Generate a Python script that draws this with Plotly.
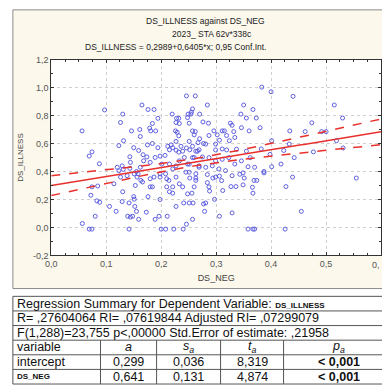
import numpy as np
import plotly.graph_objects as go

W, H = 382, 390

# ---- scatter data: DS_NEG (x) against DS_ILLNESS (y) ----
ds_neg = [
    0.056, 0.074, 0.069, 0.0875, 0.097,
    0.0565, 0.069, 0.074, 0.072, 0.074, 0.0845, 0.083, 0.088, 0.080, 0.106, 0.118,
    0.130, 0.129, 0.1415, 0.1415, 0.150, 0.151, 0.139, 0.144, 0.148, 0.152, 0.155,
    0.159, 0.153, 0.173, 0.176, 0.180, 0.184, 0.189, 0.196, 0.198, 0.200, 0.208,
    0.211, 0.223, 0.227, 0.240, 0.246, 0.241, 0.251, 0.258, 0.257, 0.210, 0.215, 0.221,
    0.130, 0.126, 0.1315, 0.123, 0.146, 0.161, 0.162, 0.165, 0.176, 0.187, 0.184,
    0.194, 0.179, 0.181, 0.190, 0.175, 0.184, 0.150, 0.159, 0.167, 0.143, 0.144,
    0.194, 0.207, 0.220, 0.228, 0.232, 0.227, 0.233, 0.226, 0.229, 0.232, 0.227,
    0.218, 0.221, 0.212, 0.215, 0.227, 0.236, 0.246, 0.262, 0.249, 0.257, 0.255,
    0.254, 0.270,
    0.383, 0.400, 0.440, 0.515, 0.530, 0.284, 0.350, 0.367, 0.345, 0.248, 0.355,
    0.373, 0.276, 0.286, 0.251, 0.326, 0.329, 0.474, 0.346, 0.380, 0.257, 0.262,
    0.260, 0.296, 0.311, 0.315, 0.332, 0.360, 0.434, 0.462, 0.492, 0.500, 0.287,
    0.302, 0.319, 0.334, 0.281, 0.277, 0.306, 0.324, 0.299, 0.311, 0.319, 0.299,
    0.337, 0.382, 0.401, 0.433, 0.423, 0.519, 0.531, 0.477, 0.398, 0.355, 0.362,
    0.358, 0.401, 0.387, 0.439, 0.555,
    0.279, 0.277, 0.281, 0.297, 0.306, 0.329, 0.358, 0.367, 0.370, 0.4255, 0.455,
    0.427, 0.367, 0.366, 0.369, 0.374, 0.349, 0.327, 0.336, 0.312, 0.288, 0.287,
    0.284, 0.263, 0.252, 0.294, 0.306, 0.310, 0.343, 0.349, 0.351, 0.387,
    0.120, 0.129, 0.123, 0.131, 0.143, 0.155, 0.158, 0.162, 0.168, 0.174, 0.180,
    0.189, 0.198, 0.201, 0.215, 0.221, 0.227, 0.233, 0.242, 0.248, 0.251, 0.260,
    0.266, 0.269, 0.251, 0.257, 0.267, 0.270, 0.239, 0.232, 0.198, 0.210, 0.180,
    0.126,
    0.151, 0.163, 0.166, 0.156, 0.138, 0.114, 0.187, 0.198, 0.208, 0.214, 0.227,
    0.233, 0.248, 0.260, 0.256, 0.263, 0.239, 0.221,
    0.246, 0.252, 0.263, 0.269, 0.257, 0.275, 0.287, 0.299, 0.311, 0.323, 0.251,
    0.269, 0.281, 0.293, 0.305, 0.317, 0.334, 0.346, 0.245, 0.263, 0.284, 0.299,
    0.329, 0.370, 0.418, 0.442,
]
ds_illness = [
    0.690, 0.540, 0.510, 0.455, 0.840,
    0.028, -0.012, -0.012, 0.230, 0.290, 0.296, 0.190, 0.180, 0.080, 0.150, 0.115,
    0.255, 0.185, -0.012, 0.175, 0.220, 0.202, 0.080, 0.074, 0.080, 0.150, 0.115,
    0.058, 0.300, 0.109, 0.220, 0.290, 0.290, 0.058, 0.080, 0.200, -0.012, -0.012,
    0.080, -0.012, 0.150, -0.012, 0.023, 0.175, 0.175, 0.175, 0.058, 0.290, 0.255, 0.245,
    0.810, 0.750, 0.620, 0.585, 0.690, 0.700, 0.650, 0.875, 0.843, 0.843, 0.743,
    0.780, 0.710, 0.690, 0.690, 0.590, 0.600, 0.570, 0.550, 0.520, 0.505, 0.465,
    0.570, 0.515, 0.810, 0.780, 0.780, 0.750, 0.743, 0.690, 0.680, 0.655, 0.615,
    0.590, 0.570, 0.580, 0.555, 0.552, 0.580, 0.940, 0.940, 0.810, 0.847, 0.824,
    0.810, 0.810,
    1.003, 0.970, 0.937, 0.875, 0.782, 0.875, 0.875, 0.843, 0.810, 0.785, 0.782,
    0.782, 0.754, 0.745, 0.745, 0.745, 0.730, 0.748, 0.713, 0.713, 0.690, 0.685,
    0.662, 0.690, 0.690, 0.690, 0.685, 0.690, 0.690, 0.685, 0.685, 0.685, 0.657,
    0.662, 0.657, 0.643, 0.596, 0.600, 0.624, 0.620, 0.596, 0.561, 0.554, 0.554,
    0.559, 0.561, 0.620, 0.596, 0.550, 0.620, 0.568, 0.540, 0.522, 0.545, 0.499,
    0.434, 0.434, 0.400, 0.360, 0.353,
    0.115, 0.168, 0.175, 0.201, 0.080, 0.104, -0.012, -0.012, -0.012, -0.012, 0.115,
    0.292, 0.245, 0.287, 0.336, 0.336, 0.304, 0.292, 0.292, 0.264, 0.260, 0.290,
    0.320, 0.353, 0.353, 0.353, 0.367, 0.335, 0.380, 0.390, 0.353, 0.390,
    0.430, 0.440, 0.405, 0.415, 0.422, 0.400, 0.383, 0.430, 0.476, 0.504, 0.465,
    0.500, 0.510, 0.453, 0.453, 0.418, 0.440, 0.476, 0.500, 0.453, 0.395, 0.500,
    0.545, 0.430, 0.615, 0.580, 0.606, 0.634, 0.545, 0.538, 0.360, 0.348, 0.348,
    0.360,
    0.383, 0.336, 0.325, 0.360, 0.370, 0.312, 0.360, 0.383, 0.383, 0.336, 0.360,
    0.312, 0.240, 0.290, 0.245, 0.336, 0.290, 0.290,
    0.568, 0.555, 0.545, 0.555, 0.499, 0.504, 0.499, 0.476, 0.487, 0.499, 0.453,
    0.440, 0.430, 0.440, 0.418, 0.406, 0.453, 0.476, 0.395, 0.383, 0.378, 0.360,
    0.370, 0.430, 0.453, 0.499,
]

# ---- regression summary ----
intercept = 0.2989
slope = 0.6405
se_intercept = 0.036
se_slope = 0.131
n_obs = 290
std_err_est = 0.21958
t_crit = 1.968

x_ticks = [0.0, 0.1, 0.2, 0.3, 0.4, 0.5]
x_tick_text = ["0,0", "0,1", "0,2", "0,3", "0,4", "0,5"]
x_edge_label = "0,"
y_ticks = [-0.2, 0.0, 0.2, 0.4, 0.6, 0.8, 1.0, 1.2]
y_tick_text = ["-0,2", "0,0", "0,2", "0,4", "0,6", "0,8", "1,0", "1,2"]

chart_titles = [
    "DS_ILLNESS against DS_NEG",
    "2023_ STA 62v*338c",
    "DS_ILLNESS = 0,2989+0,6405*x; 0,95 Conf.Int.",
]

summary_lines = [
    "Regression Summary for Dependent Variable: <b><span style='font-size:8px'>DS_ILLNESS</span></b>",
    "R= ,27604064 RI= ,07619844 Adjusted RI= ,07299079",
    "F(1,288)=23,755 p<,00000 Std.Error of estimate: ,21958",
]
coef_header = ["variable", "<i>a</i>", "<i>s</i><sub><i>a</i></sub>",
               "<i>t</i><sub><i>a</i></sub>", "<i>p</i><sub><i>a</i></sub>"]
coef_names = ["intercept", "<b><span style='font-size:8px'>DS_NEG</span></b>"]
coef_a = ["0,299", "0,641"]
coef_se = ["0,036", "0,131"]
coef_t = ["8,319", "4,874"]
coef_p = ["<b>< 0,001</b>", "<b>< 0,001</b>"]

# ---- fitted line and 95% confidence band ----
sxx = (std_err_est / se_slope) ** 2
x_mean = np.sqrt((se_intercept ** 2 / std_err_est ** 2 - 1.0 / n_obs) * sxx)
xf = np.linspace(0.0, 0.6, 121)
yf = intercept + slope * xf
half = t_crit * std_err_est * np.sqrt(1.0 / n_obs + (xf - x_mean) ** 2 / sxx)


def fx(px):
    return px / W


def fy(py):
    return 1 - py / H


PL, PR, PT, PB = 46, 381, 56, 257  # plot area in pixels

FONT = "Liberation Sans"
RED = "#e8302c"

fig = go.Figure()
fig.add_trace(go.Scatter(
    x=ds_neg, y=ds_illness, mode="markers",
    marker=dict(symbol="circle-open", size=4, color="#5050dc", line=dict(width=0.9)),
    hoverinfo="skip",
))
fig.add_trace(go.Scatter(x=xf, y=yf, mode="lines", line=dict(color=RED, width=1.5)))
fig.add_trace(go.Scatter(x=xf, y=yf + half, mode="lines",
                         line=dict(color=RED, width=1.5, dash="dash")))
fig.add_trace(go.Scatter(x=xf, y=yf - half, mode="lines",
                         line=dict(color=RED, width=1.5, dash="dash")))

shapes = [
    # cream chart panel
    dict(type="rect", xref="paper", yref="paper", x0=fx(7), x1=fx(383), y0=fy(291), y1=fy(5),
         fillcolor="#fcf8ec", line=dict(color="#8c8c8c", width=1), layer="below"),
    # white plotting area
    dict(type="rect", xref="paper", yref="paper", x0=fx(PL), x1=fx(PR), y0=fy(PB), y1=fy(PT),
         fillcolor="white", line=dict(width=0), layer="below"),
]

annotations = []
title_pos = [(203, 16), (209, 30), (172, 43)]
for txt, (cx, cy) in zip(chart_titles, title_pos):
    annotations.append(dict(xref="paper", yref="paper", x=fx(cx), y=fy(cy), text=txt,
                            showarrow=False, xanchor="center", yanchor="middle",
                            font=dict(family=FONT, size=8.5, color="#222")))

# tick label at the right edge of the x axis
annotations.append(dict(xref="paper", yref="paper", x=fx(370), y=fy(267), text=x_edge_label,
                        showarrow=False, xanchor="left", yanchor="middle",
                        font=dict(family=FONT, size=9, color="#555")))

# ---- summary table ----
row_y = [299, 314, 329, 344, 359, 374, 389]
col_x = [7, 96, 153, 218, 282, 383]
for y in row_y:
    shapes.append(dict(type="line", xref="paper", yref="paper", x0=fx(7), x1=fx(383),
                       y0=fy(y), y1=fy(y), line=dict(color="#555", width=1)))
shapes.append(dict(type="line", xref="paper", yref="paper", x0=fx(7), x1=fx(7),
                   y0=fy(row_y[0]), y1=fy(row_y[-1]), line=dict(color="#555", width=1)))
for x in col_x[1:-1]:
    shapes.append(dict(type="line", xref="paper", yref="paper", x0=fx(x), x1=fx(x),
                       y0=fy(row_y[3]), y1=fy(row_y[-1]), line=dict(color="#555", width=1)))

for i, txt in enumerate(summary_lines):
    annotations.append(dict(xref="paper", yref="paper", x=fx(9), y=fy((row_y[i] + row_y[i + 1]) / 2),
                            text=txt, showarrow=False, xanchor="left", yanchor="middle",
                            font=dict(family=FONT, size=12.5, color="#111")))

rows = [coef_header] + [
    [coef_names[k], coef_a[k], coef_se[k], coef_t[k], coef_p[k]] for k in range(len(coef_names))
]
for r, row in enumerate(rows):
    cy = (row_y[3 + r] + row_y[4 + r]) / 2
    for c, txt in enumerate(row):
        if c == 0:
            x, anchor = fx(9), "left"
        else:
            x, anchor = fx((col_x[c] + col_x[c + 1]) / 2), "center"
        if c == 4:
            x = fx(338)
        annotations.append(dict(xref="paper", yref="paper", x=x, y=fy(cy), text=txt,
                                showarrow=False, xanchor=anchor, yanchor="middle",
                                font=dict(family=FONT, size=12.5, color="#111")))

axis_common = dict(
    showline=True, linecolor="#333", linewidth=1, mirror="allticks",
    ticks="inside", ticklen=3, tickcolor="#333", showgrid=True,
    gridcolor="#cfcfcf", griddash="dot", gridwidth=1, zeroline=False,
    tickfont=dict(family=FONT, size=9, color="#555"),
)

fig.update_layout(
    width=W, height=H, margin=dict(l=0, r=0, t=0, b=0),
    paper_bgcolor="white", plot_bgcolor="rgba(0,0,0,0)",
    showlegend=False, separators=", ",
    xaxis=dict(domain=[fx(PL), fx(PR)], range=[0, 0.6], tickvals=x_ticks, ticktext=x_tick_text,
               minor=dict(ticks="inside", dtick=0.025, ticklen=2, tickcolor="#333", showgrid=False),
               title=dict(text="DS_NEG", font=dict(family=FONT, size=9, color="#444"), standoff=6),
               **axis_common),
    yaxis=dict(domain=[fy(PB), fy(PT)], range=[-0.2, 1.2], tickvals=y_ticks, ticktext=y_tick_text,
               minor=dict(ticks="inside", dtick=0.1, ticklen=2, tickcolor="#333", showgrid=False),
               title=dict(text="DS_ILLNESS", font=dict(family=FONT, size=8, color="#444"), standoff=8),
               **axis_common),
    shapes=shapes, annotations=annotations,
)

fig.write_html("out.html")
